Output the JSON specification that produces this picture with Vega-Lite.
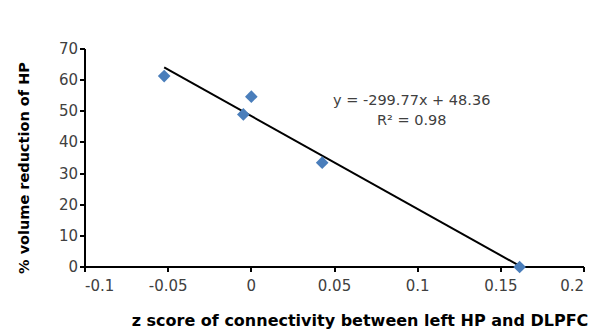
{
  "$schema": "https://vega.github.io/schema/vega-lite/v6.json",
  "autosize": {"type": "none"},
  "width": 499,
  "height": 218,
  "padding": {"left": 85, "top": 49, "right": 13, "bottom": 64},
  "background": "white",
  "config": {
    "view": {"stroke": null},
    "axis": {
      "grid": false,
      "domainColor": "#000000",
      "domainWidth": 2,
      "tickColor": "#000000",
      "tickWidth": 2,
      "tickSize": 5,
      "translate": 0,
      "labelOverlap": false,
      "labelFont": "DejaVu Sans",
      "labelFontSize": 15,
      "labelColor": "#404040",
      "titleFont": "DejaVu Sans",
      "titleFontSize": 16,
      "titleFontWeight": "bold",
      "titleColor": "#000000"
    }
  },
  "data": {
    "values": [
      {"z": -0.0524, "pct": 61.3},
      {"z": -0.0048, "pct": 49.0},
      {"z": 0.0, "pct": 54.7},
      {"z": 0.0426, "pct": 33.5},
      {"z": 0.1613, "pct": 0.0}
    ]
  },
  "encoding": {
    "x": {
      "field": "z",
      "type": "quantitative",
      "scale": {"domain": [-0.1, 0.2], "nice": false, "zero": false},
      "axis": {
        "values": [-0.1, -0.05, 0, 0.05, 0.1, 0.15, 0.2],
        "labelExpr": "toString(datum.value)",
        "labelPadding": 7,
        "labelOverlap": false,
        "title": "z score of connectivity between left HP and DLPFC",
        "titleX": 275,
        "titleY": 54,
        "titleBaseline": "middle",
        "titleAlign": "center"
      }
    },
    "y": {
      "field": "pct",
      "type": "quantitative",
      "scale": {"domain": [0, 70], "nice": false},
      "axis": {
        "values": [0, 10, 20, 30, 40, 50, 60, 70],
        "labelOverlap": false,
        "labelPadding": 2,
        "title": "% volume reduction of HP",
        "titleFontSize": 14.5,
        "titleX": -60,
        "titleY": 119,
        "titleAngle": -90,
        "titleBaseline": "middle",
        "titleAlign": "center"
      }
    }
  },
  "layer": [
    {
      "transform": [{"regression": "pct", "on": "z"}],
      "mark": {"type": "line", "color": "black", "strokeWidth": 2}
    },
    {
      "mark": {"type": "point", "shape": "diamond", "filled": true, "color": "#4A7EBB", "size": 160, "opacity": 1}
    },
    {
      "transform": [{"filter": "datum.z === 0"}],
      "mark": {
        "type": "text",
        "text": ["y = -299.77x + 48.36", "R² = 0.98"],
        "font": "DejaVu Sans",
        "fontSize": 14.5,
        "fontWeight": "normal",
        "color": "#404040",
        "align": "center",
        "baseline": "middle",
        "lineHeight": 20
      },
      "encoding": {
        "x": {"datum": 0.0964, "type": "quantitative"},
        "y": {"datum": 53.3, "type": "quantitative"}
      }
    }
  ]
}
